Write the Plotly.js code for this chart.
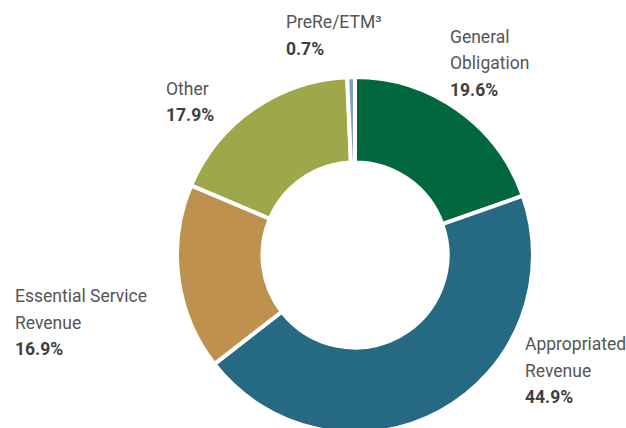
<!DOCTYPE html>
<html>
<head>
<meta charset="utf-8">
<script src="https://cdn.plot.ly/plotly-3.0.1.min.js"></script>
<style>
html,body{margin:0;padding:0;overflow:hidden;background:#fff;}
#chart{width:626px;height:440px;}
</style>
</head>
<body>
<div id="chart"></div>
<script>
const categories = ["General Obligation", "Appropriated Revenue", "Essential Service Revenue", "Other", "PreRe/ETM³"];
const values = [19.6, 44.9, 16.9, 17.9, 0.7];
const colors = ["#00673F", "#266983", "#BF914E", "#9EA74A", "#7E9FB8"];
const labelLines = [["General", "Obligation"], ["Appropriated", "Revenue"], ["Essential Service", "Revenue"], ["Other"], ["PreRe/ETM³"]];
const pctLabels = ["19.6%", "44.9%", "16.9%", "17.9%", "0.7%"];

const W = 626, H = 440;
// [left x, centre y of first line] in pixels
const labelPos = [[449, 37], [524, 344], [14, 296], [165, 89], [285, 22]];
const lineGap = 26.5;
const FONT = "Roboto, 'Liberation Sans', sans-serif";

const annotations = [];
categories.forEach((c, i) => {
  const lines = labelLines[i].map(t => ({text: t, bold: false})).concat([{text: pctLabels[i], bold: true}]);
  lines.forEach((ln, j) => {
    annotations.push({
      xref: "paper", yref: "paper",
      x: labelPos[i][0] / W, y: 1 - (labelPos[i][1] + j * lineGap) / H,
      xanchor: "left", yanchor: "middle", align: "left",
      showarrow: false, borderpad: 0,
      text: ln.bold ? "<b>" + ln.text + "</b>" : ln.text,
      font: {family: FONT, size: 17.5, color: ln.bold ? "#404040" : "#555555"}
    });
  });
});

const data = [{
  type: "pie",
  labels: categories,
  values: values,
  sort: false,
  direction: "clockwise",
  rotation: 0,
  hole: 0.52,
  textinfo: "none",
  hoverinfo: "label+percent",
  marker: {colors: colors, line: {color: "#ffffff", width: 4}},
  domain: {x: [177 / W, 533 / W], y: [1 - 433 / H, 1 - 77 / H]}
}];

const layout = {
  width: W, height: H,
  margin: {l: 0, r: 0, t: 0, b: 0},
  showlegend: false,
  paper_bgcolor: "#ffffff",
  annotations: annotations
};

Plotly.newPlot("chart", data, layout, {displayModeBar: false, staticPlot: true});
</script>
</body>
</html>
